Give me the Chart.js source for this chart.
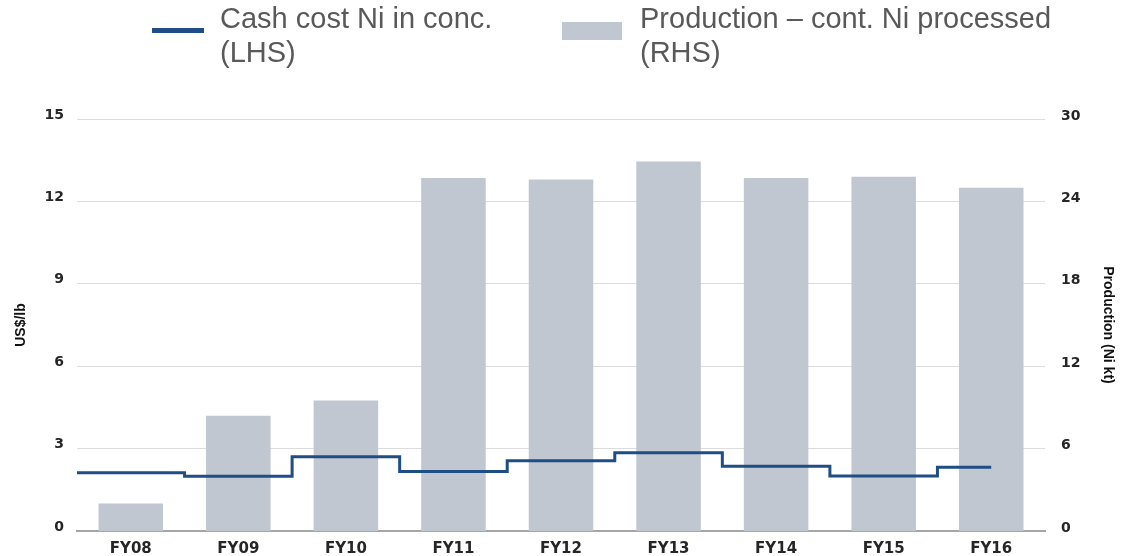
<!DOCTYPE html>
<html>
<head>
<meta charset="utf-8">
<script src="https://cdn.jsdelivr.net/npm/chart.js@4"></script>
<style>
  html, body { margin: 0; padding: 0; background: #fff; }
  #wrap { position: relative; width: 1130px; height: 556px; }
  #wrap canvas { position: absolute; left: 0; top: 0; }
  .lg-text {
    position: absolute; top: 1px;
    font-family: "Liberation Sans", Arial, sans-serif;
    font-size: 29px; line-height: 34px; color: #595959;
    white-space: nowrap;
  }
  .lg-swatch { position: absolute; }
</style>
</head>
<body>
<div id="wrap">
  <canvas id="chart" width="1130" height="556"></canvas>
  <div class="lg-swatch" style="left:152px;top:28px;width:52px;height:5px;background:#1f4e86"></div>
  <div class="lg-text" style="left:220px">Cash cost Ni in conc.<br>(LHS)</div>
  <div class="lg-swatch" style="left:562px;top:22px;width:60px;height:18px;background:#c0c7d1"></div>
  <div class="lg-text" style="left:640px">Production – cont. Ni processed<br>(RHS)</div>
</div>
<script>
const years = ['FY08', 'FY09', 'FY10', 'FY11', 'FY12', 'FY13', 'FY14', 'FY15', 'FY16'];
// cash cost, US$/lb (left axis)
const cashCost = [2.12, 1.99, 2.7, 2.17, 2.56, 2.85, 2.36, 2.0, 2.32];
// contained Ni processed, kt (right axis)
const production = [2.0, 8.4, 9.5, 25.7, 25.6, 26.9, 25.7, 25.8, 25.0];

const leftTicks = [0, 3, 6, 9, 12, 15];
const rightTicks = [0, 6, 12, 18, 24, 30];

// step line: each year's value runs across its whole category slot,
// the last one stopping at the FY16 centre
const stepPoints = years.map((_, i) => ({ x: i - 0.5, y: cashCost[i] }));
stepPoints.push({ x: years.length - 1, y: cashCost[cashCost.length - 1] });

const tickFont = { family: 'DejaVu Sans', size: 14, weight: 'bold' };
const titleFont = { family: '"Liberation Sans Narrow", "Liberation Sans", Arial, sans-serif', size: 14, weight: 'bold' };

new Chart(document.getElementById('chart'), {
    data: {
        labels: years,
        datasets: [{
            type: 'line',
            label: 'Cash cost Ni in conc. (LHS)',
            data: stepPoints,
            xAxisID: 'xl',
            yAxisID: 'y',
            stepped: true,
            borderColor: '#1f4e86',
            borderWidth: 3,
            pointRadius: 0,
            fill: false,
            order: 0
        }, {
            type: 'bar',
            label: 'Production – cont. Ni processed (RHS)',
            data: production,
            xAxisID: 'x',
            yAxisID: 'y1',
            backgroundColor: '#c0c7d1',
            grouped: false,
            barPercentage: 0.6,
            categoryPercentage: 1,
            order: 1
        }]
    },
    options: {
        responsive: false,
        animation: false,
        layout: { padding: { top: 119, left: 0, right: 0, bottom: 0 } },
        plugins: { legend: { display: false }, tooltip: { enabled: false } },
        scales: {
            x: {
                type: 'category',
                offset: true,
                grid: { display: false },
                border: { display: true, color: '#a6a6a6', width: 2 },
                ticks: { font: { family: 'DejaVu Sans', size: 15, weight: 'bold' }, color: '#262626', padding: 1 },
                afterFit: s => { s.height = 25; }
            },
            xl: {
                type: 'linear',
                display: false,
                min: -0.5,
                max: years.length - 0.5
            },
            y: {
                position: 'left',
                min: leftTicks[0],
                max: leftTicks[leftTicks.length - 1],
                afterBuildTicks: s => { s.ticks = leftTicks.map(v => ({ value: v })); },
                grid: { color: '#dcdcdc', lineWidth: 1, drawTicks: false },
                border: { display: false },
                ticks: { font: tickFont, color: '#262626', padding: 13, labelOffset: -4 },
                title: { display: true, text: 'US$/lb', font: titleFont, color: '#111', padding: { top: 13, bottom: 0 } },
                afterFit: s => { s.width = 77; }
            },
            y1: {
                position: 'right',
                min: rightTicks[0],
                max: rightTicks[rightTicks.length - 1],
                afterBuildTicks: s => { s.ticks = rightTicks.map(v => ({ value: v })); },
                grid: { display: false, drawTicks: false },
                border: { display: false },
                ticks: { font: tickFont, color: '#262626', padding: 16, labelOffset: -3 },
                title: { display: true, text: 'Production (Ni kt)', font: titleFont, color: '#111', padding: { top: 14, bottom: 0 } },
                afterFit: s => { s.width = 85; }
            }
        }
    }
});
</script>
</body>
</html>
